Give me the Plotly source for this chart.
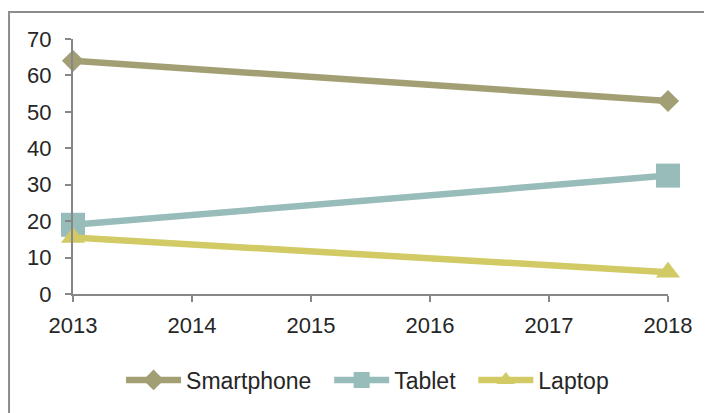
import plotly.graph_objects as go

years = [2013, 2018]
smartphone = [64, 53]
tablet = [19, 32.5]
laptop = [15.5, 6]
x_ticks = [2013, 2014, 2015, 2016, 2017, 2018]
y_ticks = [0, 10, 20, 30, 40, 50, 60, 70]

series = [
    ("Smartphone", smartphone, "#A39F74", "diamond", 17),
    ("Tablet", tablet, "#97BCBA", "square", 24),
    ("Laptop", laptop, "#D2CA64", "triangle-up", 21),
]

fig = go.Figure()
for name, vals, col, sym, sz in series:
    fig.add_trace(go.Scatter(
        x=years, y=vals, name=name + "\u00a0\u00a0", mode="lines+markers",
        line=dict(color=col, width=6.5),
        marker=dict(symbol=sym, size=sz, color=col),
        cliponaxis=False,
    ))

font = "Liberation Sans, Arial, sans-serif"
border = dict(color="#8C8C8C", width=2)
fig.update_layout(
    width=712, height=413,
    margin=dict(l=65, r=52, t=31, b=127, autoexpand=False),
    paper_bgcolor="white", plot_bgcolor="white",
    font=dict(family=font, size=22, color="#262626"),
    showlegend=True,
    legend=dict(orientation="h", x=0.506, xanchor="center", y=-0.337, yanchor="middle",
                font=dict(size=23, color="#262626"), itemwidth=55,
                tracegroupgap=0, bgcolor="rgba(0,0,0,0)"),
    xaxis=dict(range=[2013, 2018], tickvals=x_ticks, ticktext=[str(v) for v in x_ticks],
               showgrid=False, zeroline=False, showline=True, linecolor="#878787", linewidth=2,
               ticks="outside", ticklen=6, tickwidth=2, tickcolor="#878787",
               ticklabelstandoff=5, automargin=False),
    yaxis=dict(range=[0, 70], tickvals=y_ticks, showgrid=False, zeroline=False,
               showline=True, linecolor="#878787", linewidth=2,
               ticks="outside", ticklen=6, tickwidth=2, tickcolor="#878787",
               ticklabelstandoff=9, automargin=False),
    shapes=[
        dict(type="line", xref="paper", yref="paper", ysizemode="pixel", yanchor=1,
             x0=-0.1075, x1=1.2, y0=27, y1=27, line=border, layer="above"),
        dict(type="line", xref="paper", yref="paper", ysizemode="pixel", yanchor=1,
             x0=-0.1075, x1=-0.1075, y0=-420, y1=28, line=border, layer="above"),
    ],
)

fig.write_html("out.html")
